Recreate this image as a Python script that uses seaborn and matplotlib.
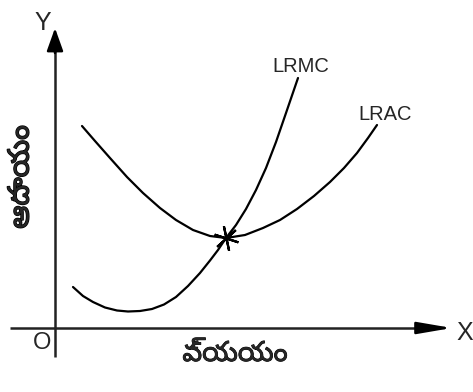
import matplotlib
matplotlib.use("Agg")
import matplotlib.pyplot as plt
import matplotlib.patheffects as pe
import seaborn as sns
import pandas as pd

sns.set_theme(style="white")
plt.rcParams["font.family"] = ["Liberation Sans", "DejaVu Sans"]

# Long-run average cost curve (quantity, cost)
lrac_q = [2.7, 4.0, 5.5, 7.2, 8.8, 10.5, 12.1, 13.8, 15.5, 17.1,
          19.0, 20.8, 22.5, 24.2, 25.9, 27.5, 28.9, 30.2, 31.3, 32.2]
lrac_c = [20.2, 18.7, 17.0, 15.1, 13.5, 12.0, 10.8, 9.8, 9.2, 9.0,
          9.3, 10.0, 10.8, 11.9, 13.2, 14.6, 16.0, 17.5, 19.0, 20.3]

# Long-run marginal cost curve (quantity, cost)
lrmc_q = [1.8, 2.8, 3.8, 5.0, 6.2, 7.3, 8.5, 9.7, 10.9, 12.1, 13.3,
          14.5, 15.5, 16.3, 17.1, 18.1, 19.1, 20.1, 21.1, 22.1, 23.1, 24.3]
lrmc_c = [4.1, 3.2, 2.6, 2.05, 1.75, 1.65, 1.7, 1.9, 2.35, 3.1, 4.2,
          5.5, 6.75, 7.8, 9.0, 10.3, 11.9, 13.8, 16.0, 18.6, 21.5, 25.0]

# Point where LRMC cuts LRAC at its minimum
eq_q, eq_c = 17.1, 9.0

curve_names = ["LRAC", "LRMC"]
x_label = "వ్యయం"
y_label = "ఆదాయం"
telugu_fonts = ["Noto Sans Telugu", "Lohit Telugu", "Noto Sans", "DejaVu Sans"]

df = pd.concat([
    pd.DataFrame({"q": lrac_q, "c": lrac_c, "curve": curve_names[0]}),
    pd.DataFrame({"q": lrmc_q, "c": lrmc_c, "curve": curve_names[1]}),
], ignore_index=True)

fig = plt.figure(figsize=(4.73, 3.92), dpi=100)
ax = fig.add_axes([0, 0, 1, 1])

sns.lineplot(data=df, x="q", y="c", units="curve", estimator=None, sort=False,
             color="black", linewidth=1.6, legend=False, ax=ax)

ax.plot([eq_q], [eq_c], marker=(6, 2, 12), markersize=18, markeredgewidth=1.6,
        color="black", linestyle="none")

axis_color = "#222222"
# Y axis with arrow
ax.plot([0, 0], [-2.9, 28.5], color=axis_color, lw=1.8, solid_capstyle="butt")
ax.annotate("", xy=(0, 30.0), xytext=(0, 27.5),
            arrowprops=dict(arrowstyle="-|>,head_length=14,head_width=5",
                            mutation_scale=1, color="black", lw=1.8,
                            shrinkA=0, shrinkB=0))
# X axis with arrow
ax.plot([-4.5, 37.5], [0, 0], color=axis_color, lw=1.8, solid_capstyle="butt")
ax.annotate("", xy=(39.7, 0), xytext=(36.8, 0),
            arrowprops=dict(arrowstyle="-|>,head_length=21,head_width=3.6",
                            mutation_scale=1, color="black", lw=1.8,
                            shrinkA=0, shrinkB=0))

ax.text(-1.2, 30.5, "Y", fontsize=18, ha="center", va="center")
ax.text(-1.3, -1.5, "O", fontsize=17, ha="center", va="center")
ax.text(41.0, -0.5, "X", fontsize=18, ha="center", va="center")

ax.text(24.6, 26.1, curve_names[1], fontsize=14.5, ha="center", va="center")
ax.text(33.0, 21.3, curve_names[0], fontsize=14.5, ha="center", va="center")

ax.text(18.0, -2.6, x_label, fontsize=20, ha="center", va="center",
        family=telugu_fonts,
        path_effects=[pe.withStroke(linewidth=0.6, foreground="black")])
ax.text(-3.4, 15.1, y_label, fontsize=21, ha="center", va="center",
        rotation=90, family=telugu_fonts,
        path_effects=[pe.withStroke(linewidth=1.0, foreground="black")])

ax.set_xlim(-5.5, 41.8)
ax.set_ylim(-6.4, 32.8)
ax.axis("off")

fig.savefig("out.png", dpi=100, facecolor="white")
